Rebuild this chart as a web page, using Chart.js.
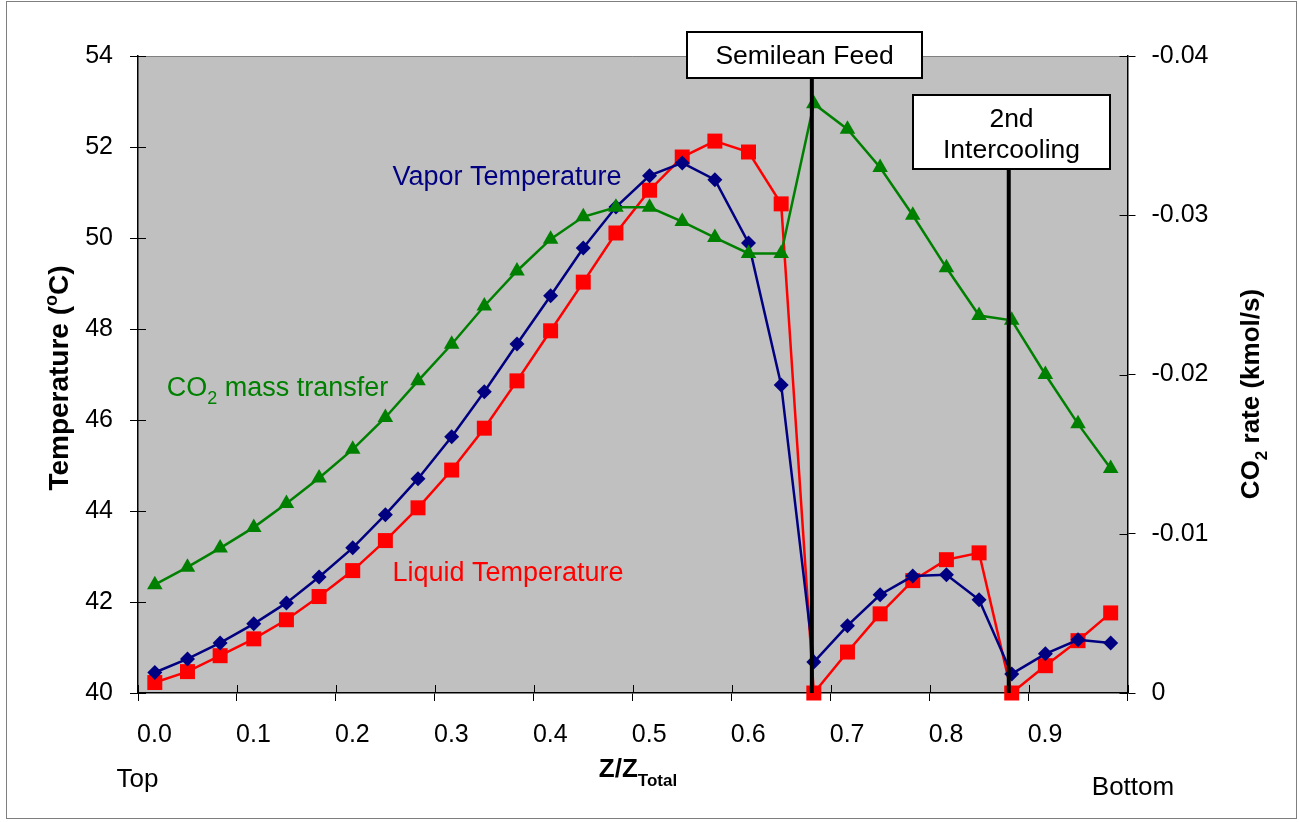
<!DOCTYPE html>
<html>
<head>
<meta charset="utf-8">
<script src="https://cdn.jsdelivr.net/npm/chart.js@4"></script>
<style>
  body { margin: 0; background: #fff; }
  #wrap { width: 1299px; height: 822px; }
</style>
</head>
<body>
<div id="wrap"><canvas id="profileChart"></canvas></div>
<script>
'use strict';

// position along the column (Z/Ztotal), top -> bottom
var zPos = [0.017, 0.050, 0.083, 0.117, 0.150, 0.183, 0.217, 0.250, 0.283, 0.317,
            0.350, 0.383, 0.417, 0.450, 0.483, 0.517, 0.550, 0.583, 0.617, 0.650,
            0.683, 0.717, 0.750, 0.783, 0.817, 0.850, 0.883, 0.917, 0.950, 0.983];

var vaporTemp = [40.45, 40.75, 41.10, 41.52, 41.98, 42.55, 43.19, 43.92, 44.71, 45.63,
                 46.62, 47.67, 48.73, 49.78, 50.68, 51.37, 51.65, 51.28, 49.89, 46.77,
                 40.68, 41.48, 42.16, 42.57, 42.60, 42.05, 40.42, 40.86, 41.17, 41.10];

var liquidTemp = [40.23, 40.47, 40.82, 41.19, 41.61, 42.12, 42.69, 43.35, 44.07, 44.90,
                  45.82, 46.86, 47.96, 49.03, 50.11, 51.05, 51.78, 52.13, 51.89, 50.75,
                  40.00, 40.90, 41.74, 42.47, 42.93, 43.08, 40.00, 40.60, 41.15, 41.76];

var co2Rate = [-0.0068, -0.0079, -0.0091, -0.0104, -0.0119, -0.0135, -0.0153, -0.0173, -0.0196, -0.0219,
               -0.0243, -0.0265, -0.0285, -0.0299, -0.0305, -0.0305, -0.0296, -0.0286, -0.0276, -0.0276,
               -0.0370, -0.0354, -0.0330, -0.0300, -0.0267, -0.0237, -0.0234, -0.0200, -0.0169, -0.0141];

var semileanZ = 0.681;
var intercoolZ = 0.880;

var family = "'Liberation Sans', Arial, sans-serif";
Chart.defaults.font.family = family;
Chart.defaults.color = '#000';

function pts(ys) {
  return zPos.map(function (z, i) { return { x: z, y: ys[i] }; });
}

// draw text with sub / superscript parts, centred on (x, y) = cap middle
function drawRich(ctx, parts, x, y, size, bold, color, angle) {
  ctx.save();
  ctx.translate(x, y);
  ctx.rotate(angle || 0);
  ctx.fillStyle = color;
  ctx.textBaseline = 'alphabetic';
  ctx.textAlign = 'left';
  var total = 0;
  parts.forEach(function (p) {
    var s = (p.sub || p.sup) ? Math.round(size * 0.65) : size;
    p.font = (bold ? 'bold ' : '') + s + 'px ' + family;
    ctx.font = p.font;
    p.w = ctx.measureText(p.t).width;
    total += p.w;
  });
  var cx = -total / 2;
  var base = size * 0.358;
  parts.forEach(function (p) {
    var dy = p.sub ? size * 0.32 : (p.sup ? -size * 0.38 : 0);
    ctx.font = p.font;
    ctx.fillText(p.t, cx, base + dy);
    cx += p.w;
  });
  ctx.restore();
}

function textBox(ctx, x1, y1, x2, y2) {
  ctx.save();
  ctx.fillStyle = '#fff';
  ctx.fillRect(x1, y1, x2 - x1, y2 - y1);
  ctx.lineWidth = 2;
  ctx.strokeStyle = '#000';
  ctx.strokeRect(x1, y1, x2 - x1, y2 - y1);
  ctx.restore();
}

var decorPlugin = {
  id: 'decor',
  beforeDraw: function (chart) {
    var ctx = chart.ctx, a = chart.chartArea;
    ctx.save();
    ctx.fillStyle = '#fff';
    ctx.fillRect(0, 0, chart.width, chart.height);
    ctx.fillStyle = '#c0c0c0';
    ctx.fillRect(a.left, a.top, a.right - a.left, a.bottom - a.top);
    ctx.strokeStyle = '#808080';
    ctx.lineWidth = 1;
    ctx.beginPath();
    ctx.moveTo(a.left, a.top + 0.5);
    ctx.lineTo(a.right, a.top + 0.5);
    ctx.stroke();
    // outer frame
    ctx.strokeStyle = '#7f7f7f';
    ctx.strokeRect(6.5, 1.5, 1290, 817);
    ctx.restore();
  },
  beforeDatasetsDraw: function (chart) {
    // tick marks that reach inside the plot
    var ctx = chart.ctx, a = chart.chartArea, s = chart.scales;
    ctx.save();
    ctx.strokeStyle = '#000';
    ctx.lineWidth = 1;
    ctx.beginPath();
    s.x.ticks.forEach(function (t) {
      var px = Math.round(s.x.getPixelForValue(t.value)) + 0.5;
      ctx.moveTo(px, a.bottom);
      ctx.lineTo(px, a.bottom - 8);
    });
    s.y.ticks.forEach(function (t) {
      var py = Math.round(s.y.getPixelForValue(t.value)) + 0.5;
      ctx.moveTo(a.left, py);
      ctx.lineTo(a.left + 8, py);
    });
    s.y2.ticks.forEach(function (t) {
      var py = Math.round(s.y2.getPixelForValue(t.value)) + 0.5;
      ctx.moveTo(a.right, py);
      ctx.lineTo(a.right - 8, py);
    });
    ctx.stroke();
    ctx.restore();
  },
  afterDraw: function (chart) {
    var ctx = chart.ctx;

    textBox(ctx, 687, 32, 922, 78);
    drawRich(ctx, [{ t: 'Semilean Feed' }], 804.5, 55, 26.5, false, '#000');

    textBox(ctx, 913, 95, 1110, 169);
    drawRich(ctx, [{ t: '2nd' }], 1011.5, 118, 26.5, false, '#000');
    drawRich(ctx, [{ t: 'Intercooling' }], 1011.5, 149, 26.5, false, '#000');

    drawRich(ctx, [{ t: 'Vapor Temperature' }], 507, 175, 27, false, '#000080');
    drawRich(ctx, [{ t: 'Liquid Temperature' }], 508, 571, 27, false, '#ff0000');
    drawRich(ctx, [{ t: 'CO' }, { t: '2', sub: true }, { t: ' mass transfer' }], 277.5, 386, 27, false, '#008000');

    drawRich(ctx, [{ t: 'Top' }], 137.5, 778, 26, false, '#000');
    drawRich(ctx, [{ t: 'Bottom' }], 1133, 786, 26, false, '#000');

    // axis titles
    drawRich(ctx, [{ t: 'Temperature (' }, { t: 'o', sup: true }, { t: 'C)' }], 58, 378, 28, true, '#000', -Math.PI / 2);
    drawRich(ctx, [{ t: 'CO' }, { t: '2', sub: true }, { t: ' rate (kmol/s)' }], 1249.5, 394, 26, true, '#000', -Math.PI / 2);
    drawRich(ctx, [{ t: 'Z/Z' }, { t: 'Total', sub: true }], 638, 768, 26, true, '#000');
  }
};

var ctx = document.getElementById('profileChart').getContext('2d');
var profileChart = new Chart(ctx, {
  type: 'line',
  data: {
    datasets: [{
      label: 'Semilean Feed',
      data: [{ x: semileanZ, y: 40 }, { x: semileanZ, y: 54 }],
      yAxisID: 'y',
      borderColor: '#000',
      borderWidth: 4,
      pointRadius: 0,
      order: 0
    }, {
      label: '2nd Intercooling',
      data: [{ x: intercoolZ, y: 40 }, { x: intercoolZ, y: 52 }],
      yAxisID: 'y',
      borderColor: '#000',
      borderWidth: 4,
      pointRadius: 0,
      order: 0
    }, {
      label: 'CO2 mass transfer',
      data: pts(co2Rate),
      yAxisID: 'y2',
      borderColor: '#008000',
      backgroundColor: '#008000',
      borderWidth: 2.5,
      pointStyle: 'triangle',
      pointRadius: 9,
      pointBorderWidth: 0,
      clip: false,
      order: 1
    }, {
      label: 'Vapor Temperature',
      data: pts(vaporTemp),
      yAxisID: 'y',
      borderColor: '#000080',
      backgroundColor: '#000080',
      borderWidth: 2.5,
      pointStyle: 'rectRot',
      pointRadius: 7.5,
      pointBorderWidth: 0,
      clip: false,
      order: 2
    }, {
      label: 'Liquid Temperature',
      data: pts(liquidTemp),
      yAxisID: 'y',
      borderColor: '#ff0000',
      backgroundColor: '#ff0000',
      borderWidth: 2.5,
      pointStyle: 'rect',
      pointRadius: 10.6,
      pointBorderWidth: 0,
      clip: false,
      order: 3
    }]
  },
  options: {
    responsive: true,
    maintainAspectRatio: false,
    animation: false,
    layout: { padding: { top: 56, left: 0, right: 0, bottom: 0 } },
    plugins: {
      legend: { display: false },
      tooltip: { enabled: false }
    },
    elements: { line: { tension: 0 } },
    scales: {
      x: {
        type: 'linear',
        min: 0,
        max: 1,
        afterFit: function (scale) { scale.height = 129; },
        border: { display: true, color: '#000', width: 1.5 },
        grid: { drawOnChartArea: false, color: '#000', tickLength: 8 },
        ticks: {
          stepSize: 0.1,
          maxRotation: 0,
          autoSkip: false,
          labelOffset: 16.5,
          padding: 19,
          font: { size: 25 },
          callback: function (v) { return v > 0.95 ? '' : v.toFixed(1); }
        }
      },
      y: {
        position: 'left',
        min: 40,
        max: 54,
        afterFit: function (scale) { scale.width = 138; },
        border: { display: true, color: '#000', width: 1.5 },
        grid: { drawOnChartArea: false, color: '#000', tickLength: 8 },
        ticks: { stepSize: 2, padding: 17, font: { size: 25 } }
      },
      y2: {
        position: 'right',
        min: -0.04,
        max: 0,
        reverse: true,
        afterFit: function (scale) { scale.width = 171.5; },
        border: { display: true, color: '#000', width: 1.5 },
        grid: { drawOnChartArea: false, color: '#000', tickLength: 8 },
        ticks: {
          stepSize: 0.01,
          padding: 16,
          font: { size: 25 },
          callback: function (v) { return Math.abs(v) < 1e-9 ? '0' : v.toFixed(2); }
        }
      }
    }
  },
  plugins: [decorPlugin]
});
</script>
</body>
</html>
